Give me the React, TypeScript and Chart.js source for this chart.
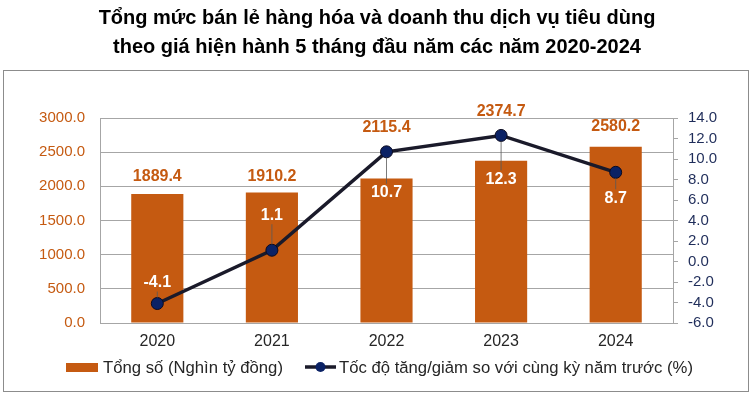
import React, { useEffect, useRef } from "react";
import { Chart, registerables } from "chart.js";

Chart.register(...registerables);

const years = ["2020", "2021", "2022", "2023", "2024"];
const totals = [1889.4, 1910.2, 2115.4, 2374.7, 2580.2];
const growth = [-4.1, 1.1, 10.7, 12.3, 8.7];

const titleLines = [
  "Tổng mức bán lẻ hàng hóa và doanh thu dịch vụ tiêu dùng",
  "theo giá hiện hành 5 tháng đầu năm các năm 2020-2024",
];
const barLegend = "Tổng số (Nghìn tỷ đồng)";
const lineLegend = "Tốc độ tăng/giảm so với cùng kỳ năm trước (%)";

const ORANGE = "#C55A11";
const NAVY = "#1F2D5A";
const FONT = "'Liberation Sans', Arial, sans-serif";

// label placement styling (pixel offsets relative to mark)
const barLabelGap = [17, 16, 51, 49, 20];
const lineLabelShift = [-21, -35, 41, 44, 26];

const decorPlugin = {
  id: "decor",
  beforeDraw(chart: any) {
    const ctx = chart.ctx;
    ctx.save();
    ctx.fillStyle = "#fff";
    ctx.fillRect(0, 0, chart.width, chart.height);
    ctx.strokeStyle = "#8c8c8c";
    ctx.lineWidth = 1;
    ctx.strokeRect(3.5, 70.5, 745, 321);
    // title
    ctx.fillStyle = "#000";
    ctx.font = `bold 20px ${FONT}`;
    ctx.textAlign = "center";
    ctx.textBaseline = "middle";
    ctx.fillText(titleLines[0], 377, 18);
    ctx.fillText(titleLines[1], 377, 47);
    ctx.restore();
  },
  afterDraw(chart: any) {
    const ctx = chart.ctx;
    ctx.save();
    ctx.textAlign = "center";
    ctx.textBaseline = "middle";
    // bar labels
    const barMeta = chart.getDatasetMeta(0);
    ctx.font = `bold 16px ${FONT}`;
    ctx.fillStyle = ORANGE;
    barMeta.data.forEach((el: any, i: number) => {
      ctx.fillText(totals[i].toFixed(1), el.x, el.y - barLabelGap[i]);
    });
    // line labels with leader lines
    const lineMeta = chart.getDatasetMeta(1);
    lineMeta.data.forEach((el: any, i: number) => {
      const ly = el.y + lineLabelShift[i];
      const dir = Math.sign(lineLabelShift[i]);
      ctx.strokeStyle = "#595959";
      ctx.lineWidth = 0.8;
      ctx.beginPath();
      ctx.moveTo(el.x, el.y + dir * 6);
      ctx.lineTo(el.x, ly - dir * 9);
      ctx.stroke();
      ctx.fillStyle = "#fff";
      ctx.font = `bold 16px ${FONT}`;
      ctx.fillText(growth[i].toFixed(1), el.x, ly);
    });
    // legend
    ctx.textAlign = "left";
    ctx.font = `16.7px ${FONT}`;
    ctx.fillStyle = ORANGE;
    ctx.fillRect(66, 363, 32, 9);
    ctx.fillStyle = "#262626";
    ctx.fillText(barLegend, 103, 368);
    ctx.strokeStyle = "#1a1a2a";
    ctx.lineWidth = 3.5;
    ctx.beginPath();
    ctx.moveTo(305, 367);
    ctx.lineTo(336, 367);
    ctx.stroke();
    ctx.fillStyle = "#0b2265";
    ctx.beginPath();
    ctx.arc(320.5, 367, 5, 0, Math.PI * 2);
    ctx.fill();
    ctx.fillStyle = "#262626";
    ctx.fillText(lineLegend, 339, 368);
    ctx.restore();
  },
};

export default function App() {
  const ref = useRef<HTMLCanvasElement>(null);
  useEffect(() => {
    if (!ref.current) return;
    const chart = new Chart(ref.current, {
      type: "bar",
      data: {
        labels: years,
        datasets: [
          {
            type: "bar",
            label: barLegend,
            data: totals,
            backgroundColor: ORANGE,
            yAxisID: "y",
            barPercentage: 0.455,
            categoryPercentage: 1,
            order: 2,
          },
          {
            type: "line",
            label: lineLegend,
            data: growth,
            yAxisID: "y1",
            borderColor: "#1a1a2a",
            borderWidth: 3.5,
            pointRadius: 6,
            pointBackgroundColor: "#0b2265",
            pointBorderColor: "#0a0a20",
            pointBorderWidth: 1,
            tension: 0,
            order: 1,
          } as any,
        ],
      },
      options: {
        responsive: false,
        animation: false,
        layout: { padding: { top: 118, left: 0, right: 0, bottom: 0 } },
        plugins: {
          legend: { display: false },
          title: { display: false },
          tooltip: { enabled: false },
        },
        scales: {
          x: {
            grid: { display: false, drawTicks: false },
            border: { display: false },
            ticks: { color: "#262626", font: { family: FONT, size: 16 }, padding: 9 },
            afterFit: (s: any) => {
              s.height = 76;
            },
          },
          y: {
            position: "left",
            min: 0,
            max: 3000,
            ticks: {
              stepSize: 500,
              color: ORANGE,
              font: { family: FONT, size: 15 },
              padding: 15,
              callback: (v: any) => Number(v).toFixed(1),
            },
            grid: { color: "#a6a6a6", drawTicks: false, lineWidth: 1 },
            border: { display: true, color: "#a6a6a6" },
            afterFit: (s: any) => {
              s.width = 100;
            },
          },
          y1: {
            position: "right",
            min: -6,
            max: 14,
            ticks: {
              stepSize: 2,
              autoSkip: false,
              color: NAVY,
              font: { family: FONT, size: 15 },
              padding: 10,
              callback: (v: any) => Number(v).toFixed(1),
            },
            grid: {
              drawOnChartArea: false,
              drawTicks: true,
              tickLength: 5,
              tickColor: "#a6a6a6",
            },
            border: { display: true, color: "#a6a6a6" },
            afterFit: (s: any) => {
              s.width = 81;
            },
          },
        },
      },
      plugins: [decorPlugin],
    });
    return () => chart.destroy();
  }, []);
  return (
    <div style={{ position: "fixed", left: 0, top: 0, width: 754, height: 399 }}>
      <canvas ref={ref} width={754} height={399} />
    </div>
  );
}
